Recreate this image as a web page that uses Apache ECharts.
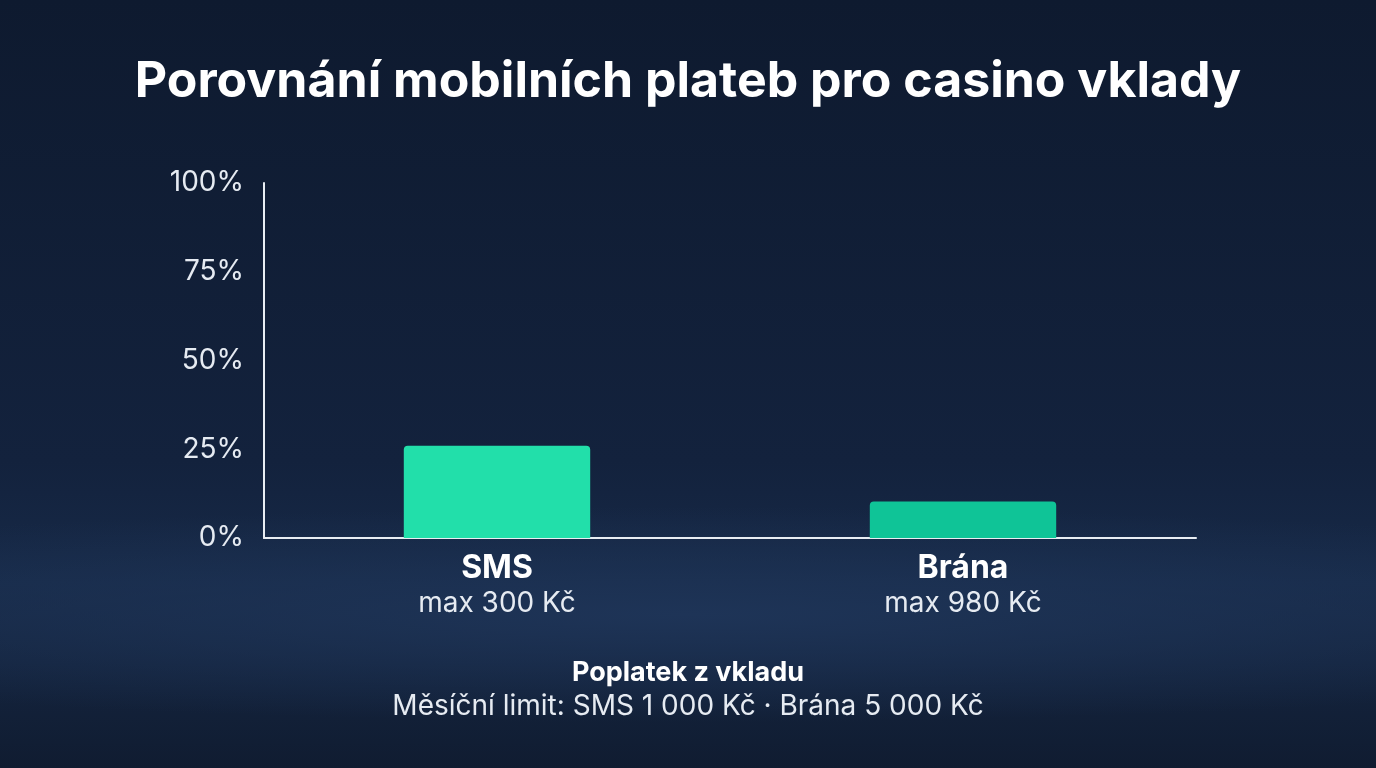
<!DOCTYPE html>
<html><head><meta charset="utf-8">
<script src="https://cdn.jsdelivr.net/npm/echarts@6/dist/echarts.min.js"></script>
<style>html,body{margin:0;padding:0;}#c{width:1376px;height:768px;background:radial-gradient(ellipse 90% 14% at 50% 80%, #1e3457 0%, rgba(22,38,66,0) 100%),linear-gradient(180deg,#0e1a2f 0%,#13223d 60%,#172a48 76%,#101c31 100%);}</style>
</head><body><div id="c"></div>
<script>
const categories = ['SMS', 'Brána'];
const subLabels = ['max 300 Kč', 'max 980 Kč'];
const values = [26, 10.3];
const barColors = ['#22dfaa', '#0fc497'];
const yTicks = [0, 25, 50, 75, 100];
const title = 'Porovnání mobilních plateb pro casino vklady';
const footerTitle = 'Poplatek z vkladu';
const footerText = 'Měsíční limit: SMS 1 000 Kč · Brána 5 000 Kč';

const chart = echarts.init(document.getElementById('c'));
chart.setOption({
  backgroundColor: 'transparent',
  title: [
    {text: title, left: 'center', top: 52, textStyle: {color: '#fff', fontFamily: 'Inter', fontWeight: 'bold', fontSize: 50}},
    {text: footerTitle, left: 'center', top: 654, textStyle: {color: '#fff', fontFamily: 'Inter', fontWeight: 'bold', fontSize: 27}},
    {text: footerText, left: 'center', top: 688, textStyle: {color: '#e6ebf2', fontFamily: 'Inter', fontWeight: 'normal', fontSize: 28}}
  ],
  grid: {left: 264, right: 180, top: 183, bottom: 230},
  xAxis: {
    type: 'category', data: categories,
    axisLine: {lineStyle: {color: '#e8edf3', width: 2}},
    axisTick: {show: false},
    axisLabel: {
      margin: 12,
      formatter: (v, i) => '{a|' + v + '}\n{b|' + subLabels[i] + '}',
      rich: {
        a: {color: '#fff', fontFamily: 'Inter', fontWeight: 'bold', fontSize: 32, lineHeight: 36},
        b: {color: '#e6ebf2', fontFamily: 'Inter', fontSize: 28, lineHeight: 36}
      }
    }
  },
  yAxis: {
    type: 'value', min: 0, max: 100, interval: 25,
    splitLine: {show: false},
    axisLine: {show: true, lineStyle: {color: '#e8edf3', width: 2}},
    axisTick: {show: false},
    axisLabel: {color: '#e6ebf2', fontFamily: 'Inter', fontSize: 28, margin: 20, formatter: '{value}%'}
  },
  series: [{
    type: 'bar', barWidth: '40%',
    data: values.map((v, i) => ({value: v, itemStyle: {color: barColors[i], borderRadius: [4, 4, 0, 0]}})),
    label: {show: false}
  }]
});
</script></body></html>
